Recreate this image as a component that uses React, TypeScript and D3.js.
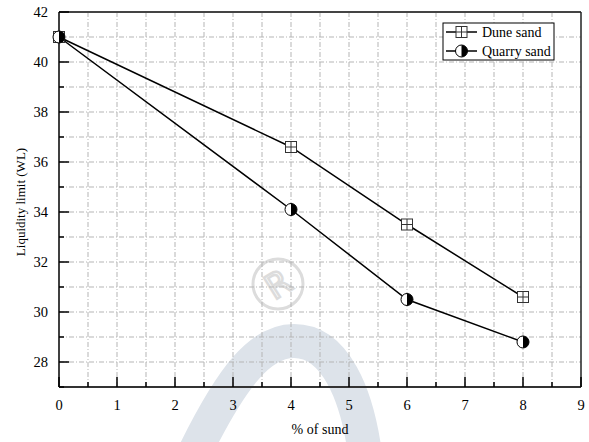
import React from "react";
import * as d3 from "d3";

const sandPercent = [0, 4, 6, 8];
const duneSand = [41, 36.6, 33.5, 30.6];
const quarrySand = [41, 34.1, 30.5, 28.8];
const xTickLabels = [0, 1, 2, 3, 4, 5, 6, 7, 8, 9];
const yTickLabels = [28, 30, 32, 34, 36, 38, 40, 42];
const seriesNames = ["Dune sand", "Quarry sand"];

const W = 589;
const H = 442;
const FONT = "Liberation Serif, DejaVu Serif, serif";

function SquareMarker({ cx, cy }: { cx: number; cy: number }) {
  const s = 5.5;
  return (
    <g>
      <rect x={cx - s} y={cy - s} width={2 * s} height={2 * s} fill="#fff" stroke="#333" strokeWidth={1} />
      <line x1={cx} x2={cx} y1={cy - s} y2={cy + s} stroke="#333" strokeWidth={1} />
      <line x1={cx - s} x2={cx + s} y1={cy} y2={cy} stroke="#333" strokeWidth={1} />
    </g>
  );
}

function HalfCircleMarker({ cx, cy }: { cx: number; cy: number }) {
  const r = 6;
  return (
    <g>
      <circle cx={cx} cy={cy} r={r} fill="#fff" stroke="#000" strokeWidth={1} />
      <path d={`M ${cx} ${cy - r} A ${r} ${r} 0 0 1 ${cx} ${cy + r} Z`} fill="#000" />
    </g>
  );
}

export default function App() {
  const x = d3.scaleLinear().domain([0, 9]).range([59, 581]);
  const y = d3.scaleLinear().domain([27, 42]).range([387, 12]);

  const line = d3
    .line<[number, number]>()
    .x((d) => x(d[0]))
    .y((d) => y(d[1]));

  const duneData = sandPercent.map((p, i) => [p, duneSand[i]] as [number, number]);
  const quarryData = sandPercent.map((p, i) => [p, quarrySand[i]] as [number, number]);

  const xGrid = d3.range(0.5, 9, 0.5);
  const yGrid = d3.range(28, 42, 1);
  const xMinor = d3.range(0.5, 9, 1);
  const yMinor = d3.range(27, 42, 2);

  const [x0, x1] = x.range();
  const [y0, y1] = y.range();

  const textStyle = { fontFamily: FONT };

  return (
    <svg width={W} height={H} style={{ position: "absolute", left: 0, top: 0, background: "#fff" }}>
      <rect x={0} y={0} width={W} height={H} fill="#fff" />

      {/* faint background emblem */}
      <g>
        <path
          d="M 190 462 C 233 372, 262 341, 294 341 C 334 341, 358 392, 366 462"
          fill="none"
          stroke="#dde3ea"
          strokeWidth={34}
        />
        <circle cx={278} cy={284} r={25} fill="none" stroke="#dcdcdc" strokeWidth={3} />
        <text
          x={278}
          y={284}
          transform="rotate(-32 278 284)"
          textAnchor="middle"
          dominantBaseline="central"
          style={{ fontFamily: "DejaVu Sans, sans-serif" }}
          fontSize={34}
          fill="none"
          stroke="#dcdcdc"
          strokeWidth={2.5}
        >
          R
        </text>
      </g>

      {/* grid */}
      <g stroke="#b5b5b5" strokeWidth={1} strokeDasharray="5,2,1,2">
        {xGrid.map((v) => (
          <line key={`gx${v}`} x1={x(v)} x2={x(v)} y1={y1} y2={y0} />
        ))}
        {yGrid.map((v) => (
          <line key={`gy${v}`} x1={x0} x2={x1} y1={y(v)} y2={y(v)} />
        ))}
      </g>

      {/* frame */}
      <line x1={x0} x2={x1} y1={y1} y2={y1} stroke="#444" strokeWidth={2} />
      <line x1={x1} x2={x1} y1={y1} y2={y0} stroke="#222" strokeWidth={1.5} />
      <line x1={x0} x2={x0} y1={y1} y2={y0} stroke="#000" strokeWidth={1.5} />
      <line x1={x0} x2={x1} y1={y0} y2={y0} stroke="#333" strokeWidth={2} />

      {/* ticks */}
      <g stroke="#000" strokeWidth={1.5}>
        {xTickLabels.map((v) => (
          <line key={`tx${v}`} x1={x(v)} x2={x(v)} y1={y0} y2={y0 - 10} />
        ))}
        {xMinor.map((v) => (
          <line key={`mx${v}`} x1={x(v)} x2={x(v)} y1={y0} y2={y0 - 5} />
        ))}
        {yTickLabels.map((v) => (
          <line key={`ty${v}`} x1={x0} x2={x0 + 10} y1={y(v)} y2={y(v)} />
        ))}
        {yMinor.map((v) => (
          <line key={`my${v}`} x1={x0} x2={x0 + 5} y1={y(v)} y2={y(v)} />
        ))}
      </g>

      {/* tick labels */}
      <g style={textStyle} fontSize={14.5} fill="#000">
        {xTickLabels.map((v) => (
          <text key={`lx${v}`} x={x(v)} y={410} textAnchor="middle">
            {v}
          </text>
        ))}
        {yTickLabels.map((v) => (
          <text key={`ly${v}`} x={48} y={y(v)} textAnchor="end" dominantBaseline="central">
            {v}
          </text>
        ))}
      </g>

      {/* axis titles */}
      <text x={320} y={434} textAnchor="middle" style={textStyle} fontSize={14}>
        % of sund
      </text>
      <text
        transform={`translate(25 ${y(34.4)}) rotate(-90)`}
        textAnchor="middle"
        style={textStyle}
        fontSize={13}
      >
        Liquidity limit (WL)
      </text>

      {/* series */}
      <path d={line(duneData) || ""} fill="none" stroke="#000" strokeWidth={1.5} />
      <path d={line(quarryData) || ""} fill="none" stroke="#000" strokeWidth={1.5} />
      {duneData.map((d, i) => (
        <SquareMarker key={`d${i}`} cx={x(d[0])} cy={y(d[1])} />
      ))}
      {quarryData.map((d, i) => (
        <HalfCircleMarker key={`q${i}`} cx={x(d[0])} cy={y(d[1])} />
      ))}

      {/* legend */}
      <g>
        <rect x={443} y={23} width={111} height={37} fill="#fff" stroke="#000" strokeWidth={1} />
        <line x1={446} x2={477} y1={32} y2={32} stroke="#000" strokeWidth={1.5} />
        <SquareMarker cx={461.5} cy={32} />
        <line x1={446} x2={477} y1={51} y2={51} stroke="#000" strokeWidth={1.5} />
        <HalfCircleMarker cx={461.5} cy={51} />
        <text x={482} y={32} dominantBaseline="central" style={textStyle} fontSize={14}>
          {seriesNames[0]}
        </text>
        <text x={482} y={51} dominantBaseline="central" style={textStyle} fontSize={14}>
          {seriesNames[1]}
        </text>
      </g>
    </svg>
  );
}
